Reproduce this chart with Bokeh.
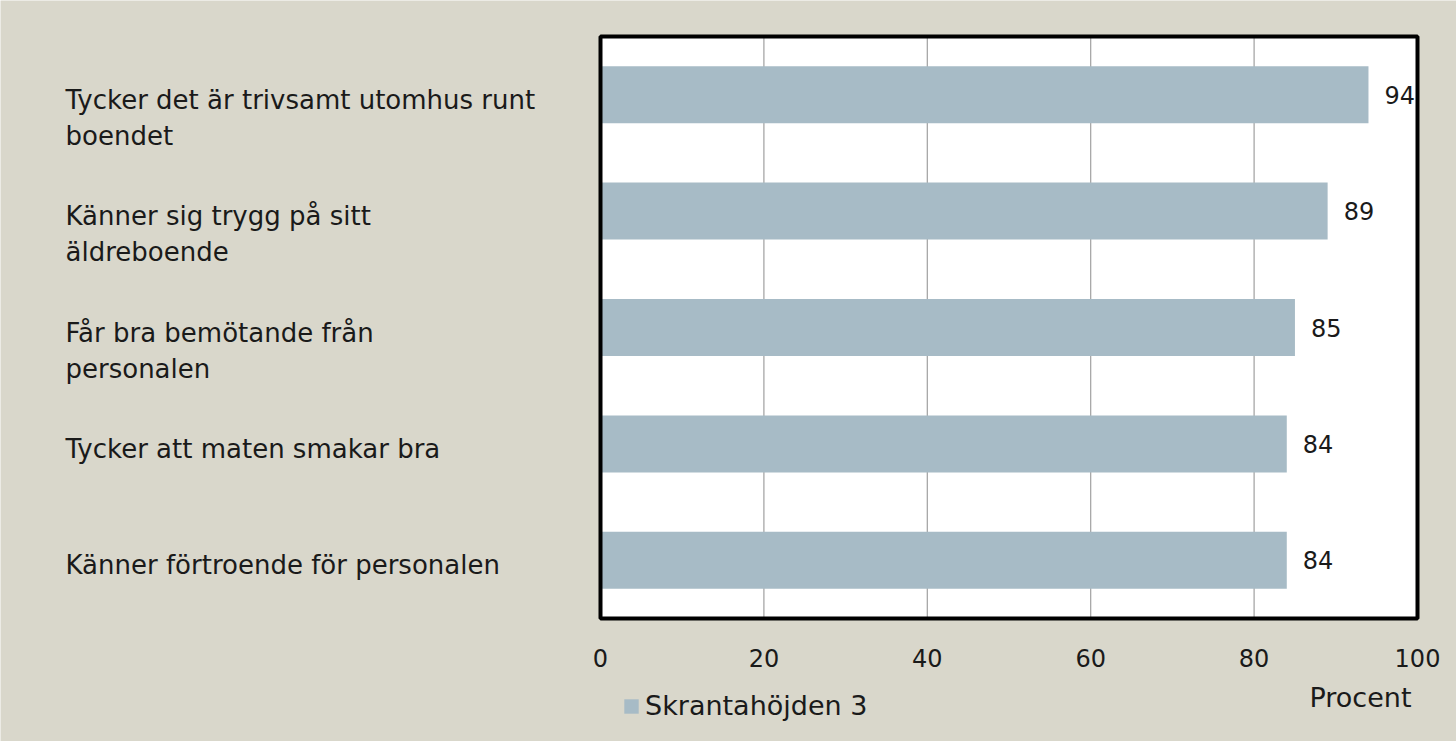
from bokeh.plotting import figure
from bokeh.models import ColumnDataSource, Range1d, BoxAnnotation, Legend, LegendItem
from bokeh.core.properties import value
from bokeh.embed import file_html
from bokeh.resources import INLINE

categories = [
    "Tycker det är trivsamt utomhus runt\nboendet",
    "Känner sig trygg på sitt\näldreboende",
    "Får bra bemötande från\npersonalen",
    "Tycker att maten smakar bra",
    "Känner förtroende för personalen",
]
values = [94, 89, 85, 84, 84]
ticks = [0, 20, 40, 60, 80, 100]
series_name = "Skrantahöjden 3"
axis_title = "Procent"

FONT = "DejaVu Sans"
TXT = "#1a1a1a"
BG = "#d9d7cb"
BAR = "#a7bbc6"
GRID = "#a0a0a0"

# canvas and chart-area geometry in pixels
W, H = 1456, 741
FL, FR, FT, FB = 600, 1417, 36, 618
n = len(categories)
XMIN, XMAX = ticks[0], ticks[-1]
sx = (FR - FL) / (XMAX - XMIN)          # px per x unit
sy = (FB - FT) / n                       # px per category
y_top_c, y_bot_c = -0.5, n - 0.5         # category band edges

p = figure(width=W, height=H, output_backend="svg", toolbar_location=None,
           x_axis_type=None, y_axis_type=None,
           x_range=Range1d(XMIN - FL / sx, XMAX + (W - FR) / sx),
           y_range=Range1d(y_bot_c + (H - FB) / sy, y_top_c - FT / sy),
           min_border=0)
p.background_fill_color = BG
p.border_fill_color = BG
p.outline_line_color = None
p.grid.visible = False

# white plotting area
p.add_layout(BoxAnnotation(left=XMIN, right=XMAX, top=y_top_c, bottom=y_bot_c,
                           fill_color="white", fill_alpha=1, line_color=None, level="underlay"))

# vertical gridlines
inner = ticks[1:-1]
p.segment(x0=inner, x1=inner, y0=[y_top_c] * len(inner), y1=[y_bot_c] * len(inner),
          line_color=GRID, line_width=1.2)

idx = list(range(n))
src = ColumnDataSource(dict(y=idx, v=values, lab=[str(v) for v in values], cat=categories))
r = p.hbar(y="y", right="v", left=XMIN, height=0.49, source=src, fill_color=BAR, line_color=None)

# frame border
p.add_layout(BoxAnnotation(left=XMIN, right=XMAX, top=y_top_c, bottom=y_bot_c,
                           fill_alpha=0, line_color="black", line_alpha=1, line_width=4,
                           level="overlay"))

# value labels
p.text(x="v", y="y", text="lab", source=src, x_offset=16, text_baseline="middle",
       text_align="left", text_font=value(FONT), text_font_size="24px", text_color=TXT)

# category labels (left aligned)
p.text(x=XMIN - (FL - 65) / sx, y="y", text="cat", source=src, y_offset=-10,
       text_baseline="top", text_align="left", text_font=value(FONT),
       text_font_size="26px", text_color=TXT, text_line_height=1.2)

# x tick labels
p.text(x=ticks, y=[y_bot_c + (657 - FB) / sy] * len(ticks), text=[str(t) for t in ticks],
       text_align="center", text_baseline="middle", text_font=value(FONT),
       text_font_size="24px", text_color=TXT)

# axis title
p.text(x=[XMIN + (1360 - FL) / sx], y=[y_bot_c + (697 - FB) / sy], text=[axis_title],
       text_align="center", text_baseline="middle", text_font=value(FONT),
       text_font_size="27px", text_color=TXT)

legend = Legend(items=[LegendItem(label=series_name, renderers=[r])], location=(622, 20),
                orientation="horizontal", background_fill_alpha=0, border_line_color=None,
                glyph_width=18, glyph_height=18, label_text_font=FONT,
                label_text_font_size="27px", label_text_color=TXT, padding=0, margin=0,
                label_standoff=5)
p.add_layout(legend)

open("out.html", "w").write(file_html(p, INLINE))
